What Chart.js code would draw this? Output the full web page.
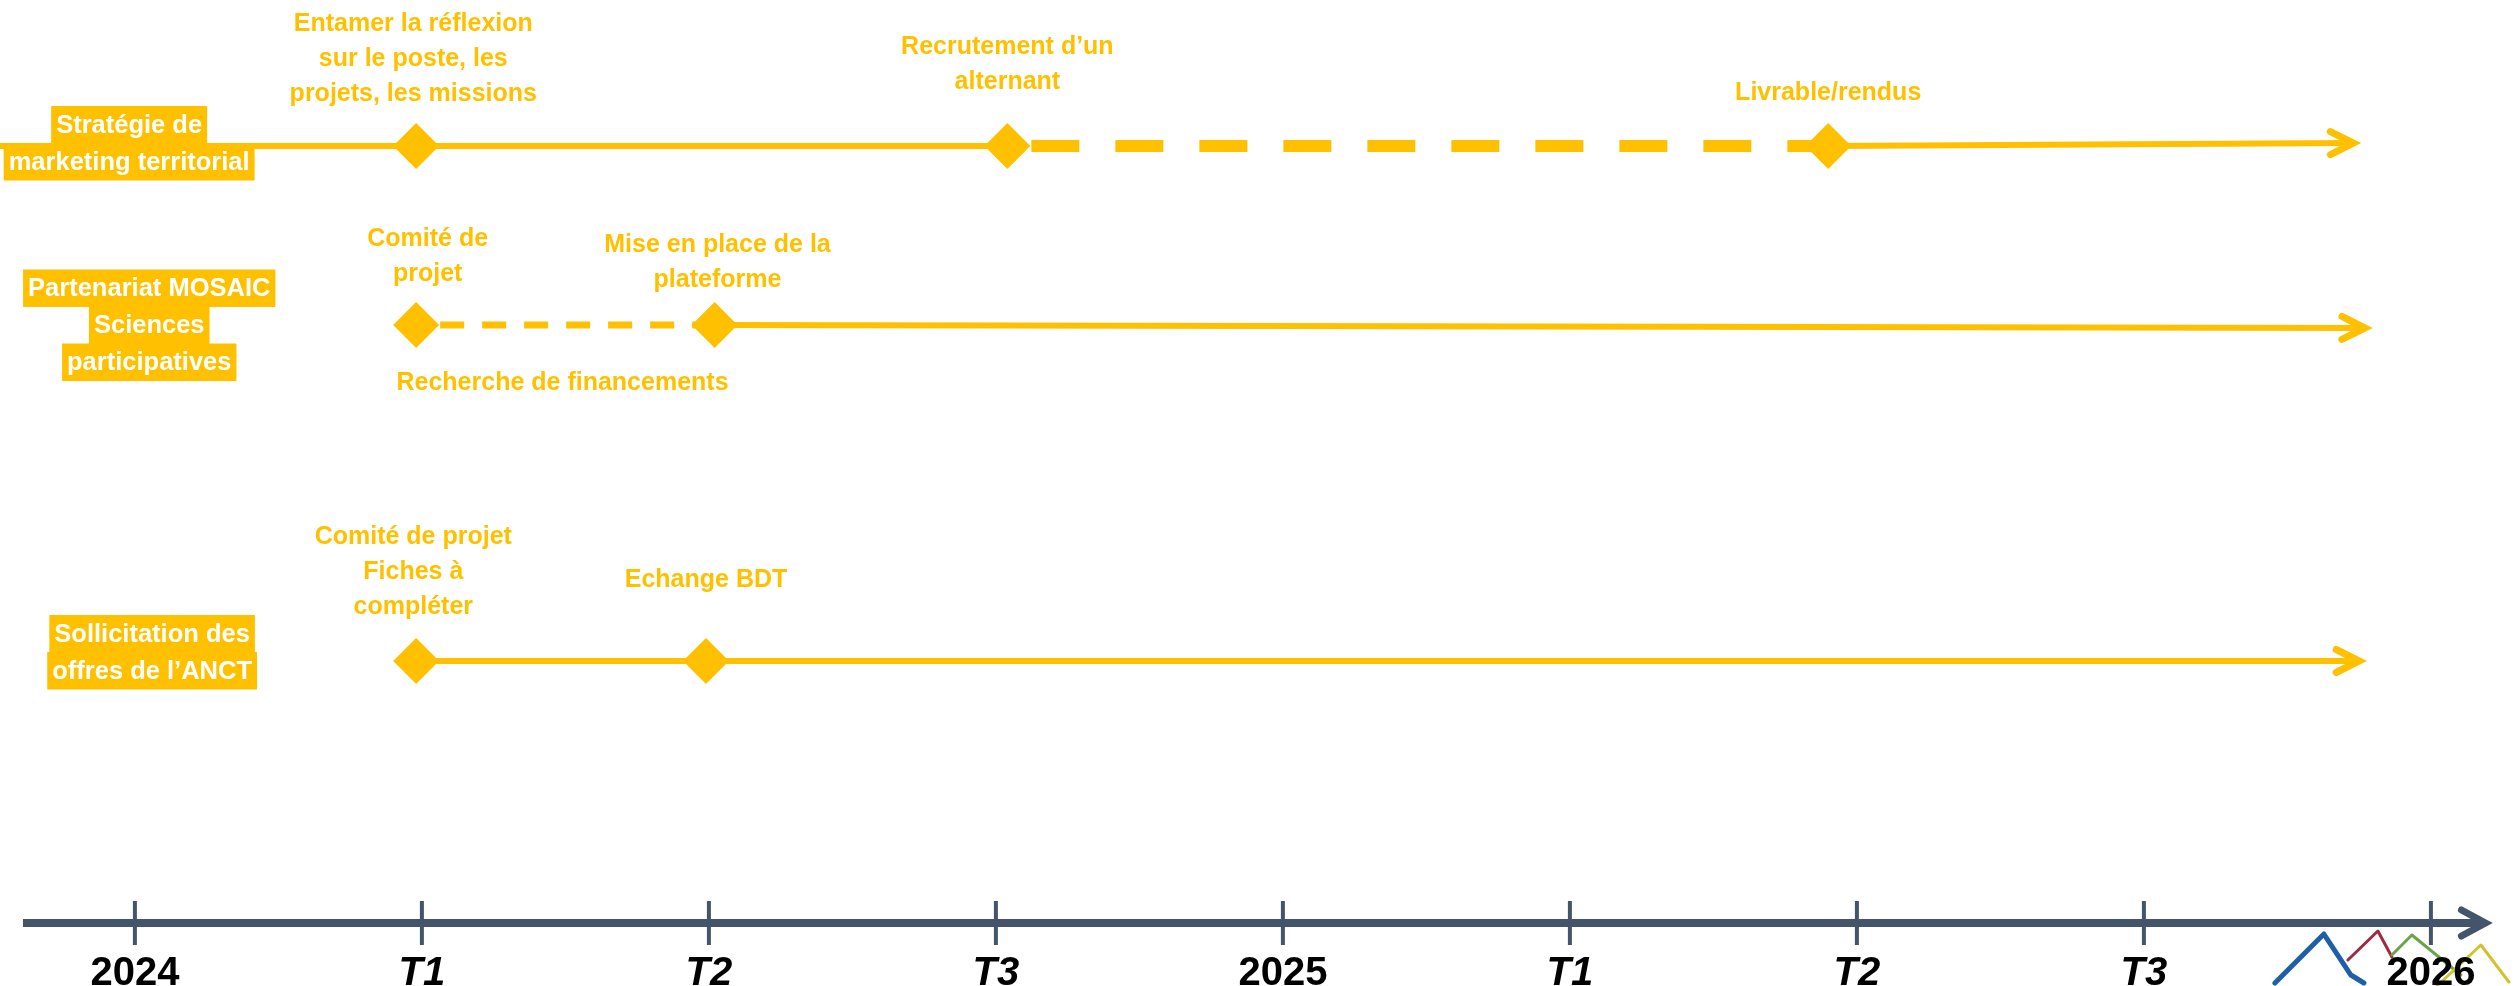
<!DOCTYPE html>
<html><head><meta charset="utf-8">
<script src="https://cdn.jsdelivr.net/npm/chart.js@4.4.1/dist/chart.umd.min.js"></script>
<style>html,body{margin:0;padding:0;background:#fff;overflow:hidden}#wrap{width:2517px;height:986px;position:relative}</style>
</head><body><div id="wrap"><canvas id="c"></canvas></div>
<script>
// ---------- data ----------
const tickValues = [0, 1, 2, 3, 4, 5, 6, 7, 8];
const tickLabels = ['2024', 'T1', 'T2', 'T3', '2025', 'T1', 'T2', 'T3', '2026'];
const tickItalic = [false, true, true, true, false, true, true, true, false];

const rowNames = [
  ['Stratégie de', 'marketing territorial'],
  ['Partenariat MOSAIC', 'Sciences', 'participatives'],
  ['Sollicitation des', 'offres de l’ANCT']
];
const rowLevels = [7.77, 5.98, 2.62];
const rowEndLevels = [7.80, 5.95, 2.62];
const rowArrowEnd = [7.73, 7.77, 7.75];
const row1Start = -0.47;

const row1Milestones = [0.98, 3.04, 5.90];
const row2Milestones = [0.98, 2.02];
const row3Milestones = [0.98, 1.99];

const noteTexts = [
  ['Entamer la réflexion', 'sur le poste, les', 'projets, les missions'],
  ['Recrutement d’un', 'alternant'],
  ['Livrable/rendus'],
  ['Comité de', 'projet'],
  ['Mise en place de la', 'plateforme'],
  ['Recherche de financements'],
  ['Comité de projet', 'Fiches à', 'compléter'],
  ['Echange BDT']
];
const noteRow = [0, 0, 0, 1, 1, 1, 2, 2];
const noteX = [0.97, 3.04, 5.90, 1.02, 2.03, 1.49, 0.97, 1.99];

// ---------- layout / style ----------
const AMBER = '#FFC000';
const AXIS = '#44546A';
const FONT = "'Liberation Sans', Arial, sans-serif";
const noteDy = [-122, -99, -53, -86, -80, 58, -124, -81];
const rowLabelX = [-0.02, 0.05, 0.06];
const rowLabelShift = [-3, 0, -9];

const datasets = [];
function addLine(points, opts) {
  datasets.push(Object.assign({
    type: 'line', data: points, borderColor: AMBER, borderWidth: 6,
    pointRadius: 0, fill: false, tension: 0, order: 2, borderCapStyle: 'butt'
  }, opts));
}
// row 1
addLine([{x: row1Start, y: rowLevels[0]}, {x: row1Milestones[1], y: rowLevels[0]}], {});
addLine([{x: row1Milestones[1], y: rowLevels[0]}, {x: row1Milestones[2], y: rowLevels[0]}],
  {borderWidth: 12, borderDash: [48, 36], borderDashOffset: 60});
addLine([{x: row1Milestones[2], y: rowLevels[0]}, {x: rowArrowEnd[0], y: rowEndLevels[0]}], {arrow: true});
// row 2
addLine([{x: row2Milestones[0], y: rowLevels[1]}, {x: row2Milestones[1], y: rowLevels[1]}],
  {borderWidth: 7, borderDash: [24, 18], borderDashOffset: 18});
addLine([{x: row2Milestones[1], y: rowLevels[1]}, {x: rowArrowEnd[1], y: rowEndLevels[1]}], {arrow: true});
// row 3
addLine([{x: row3Milestones[0], y: rowLevels[2]}, {x: rowArrowEnd[2], y: rowEndLevels[2]}], {arrow: true});

[row1Milestones, row2Milestones, row3Milestones].forEach((ms, r) => {
  datasets.push({
    type: 'scatter', data: ms.map(x => ({x, y: rowLevels[r]})),
    pointStyle: 'rectRot', pointRadius: 23, pointHoverRadius: 23,
    backgroundColor: AMBER, borderWidth: 0, order: 0
  });
});

const timelinePlugin = {
  id: 'timeline',
  afterDatasetsDraw(chart) {
    const ctx = chart.ctx;
    const xs = chart.scales.x, ys = chart.scales.y;
    ctx.save();

    // arrowheads on row lines
    chart.data.datasets.forEach((ds, i) => {
      if (!ds.arrow) return;
      const pts = chart.getDatasetMeta(i).data;
      const p = pts[pts.length - 1], q = pts[pts.length - 2];
      const a = Math.atan2(p.y - q.y, p.x - q.x);
      ctx.save();
      ctx.translate(p.x, p.y); ctx.rotate(a);
      ctx.strokeStyle = AMBER; ctx.lineWidth = 7; ctx.lineCap = 'round'; ctx.lineJoin = 'miter';
      ctx.beginPath(); ctx.moveTo(-23, -11.5); ctx.lineTo(0, 0); ctx.lineTo(-23, 11.5); ctx.stroke();
      ctx.restore();
    });

    // time axis
    const ay = ys.getPixelForValue(0);
    const ax0 = xs.getPixelForValue(-0.39), ax1 = xs.getPixelForValue(8.19);
    ctx.strokeStyle = AXIS; ctx.lineCap = 'butt';
    ctx.lineWidth = 8;
    ctx.beginPath(); ctx.moveTo(ax0, ay); ctx.lineTo(ax1 - 4, ay); ctx.stroke();
    ctx.lineWidth = 7; ctx.lineCap = 'round'; ctx.lineJoin = 'miter';
    ctx.beginPath(); ctx.moveTo(ax1 - 24, ay - 13); ctx.lineTo(ax1, ay); ctx.lineTo(ax1 - 24, ay + 13); ctx.stroke();
    ctx.lineCap = 'butt'; ctx.lineWidth = 4;
    tickValues.forEach(v => {
      const px = xs.getPixelForValue(v);
      ctx.beginPath(); ctx.moveTo(px, ay - 22); ctx.lineTo(px, ay + 22); ctx.stroke();
    });

    // logo (decorative mountains)
    const lx = xs.getPixelForValue(8);
    const logo = [
      ['#1F5FA8', 5, [[-156, 60], [-107, 11], [-80, 52], [-67, 60]]],
      ['#A32A3C', 3, [[-83, 37], [-53, 8], [-39, 34]]],
      ['#6BA34A', 3, [[-39, 32], [-19, 12], [30, 52]]],
      ['#D2C22E', 3, [[6, 63], [50, 22], [78, 59]]]
    ];
    ctx.lineJoin = 'round'; ctx.lineCap = 'round';
    logo.forEach(([col, w, pts]) => {
      ctx.strokeStyle = col; ctx.lineWidth = w; ctx.beginPath();
      pts.forEach(([dx, dy], k) => k ? ctx.lineTo(lx + dx, ay + dy) : ctx.moveTo(lx + dx, ay + dy));
      ctx.stroke();
    });

    // tick labels
    ctx.fillStyle = '#000'; ctx.textAlign = 'center'; ctx.textBaseline = 'alphabetic';
    tickValues.forEach((v, i) => {
      ctx.font = (tickItalic[i] ? 'italic ' : '') + 'bold 40px ' + FONT;
      ctx.fillText(tickLabels[i], xs.getPixelForValue(v), ay + 62);
    });

    // row label boxes
    const lh = 37;
    ctx.font = 'bold 25.5px ' + FONT; ctx.textBaseline = 'middle';
    rowNames.forEach((lines, r) => {
      const cx = xs.getPixelForValue(rowLabelX[r]);
      const cy = ys.getPixelForValue(rowLevels[r]) + rowLabelShift[r];
      const top = cy - lines.length * lh / 2;
      lines.forEach((t, k) => {
        const w = ctx.measureText(t).width + 10;
        const y = top + k * lh;
        ctx.fillStyle = AMBER; ctx.fillRect(cx - w / 2, y, w, lh + 0.5);
      });
      lines.forEach((t, k) => {
        ctx.fillStyle = '#fff';
        ctx.fillText(t, cx, top + k * lh + lh / 2 + 1);
      });
    });

    // milestone notes
    ctx.font = 'bold 25px ' + FONT; ctx.fillStyle = AMBER;
    noteTexts.forEach((lines, i) => {
      const cx = xs.getPixelForValue(noteX[i]);
      const y0 = ys.getPixelForValue(rowLevels[noteRow[i]]) + noteDy[i];
      lines.forEach((t, k) => ctx.fillText(t, cx, y0 + k * 35));
    });
    ctx.restore();
  }
};

new Chart(document.getElementById('c'), {
  data: {datasets},
  options: {
    responsive: true, maintainAspectRatio: false, animation: false, events: [],
    devicePixelRatio: 1,
    layout: {padding: 0, autoPadding: false},
    plugins: {legend: {display: false}, tooltip: {enabled: false}},
    scales: {
      x: {type: 'linear', min: -0.47, max: 8.30, display: false},
      y: {type: 'linear', min: -0.63, max: 9.23, display: false}
    }
  },
  plugins: [timelinePlugin]
});
</script></body></html>
